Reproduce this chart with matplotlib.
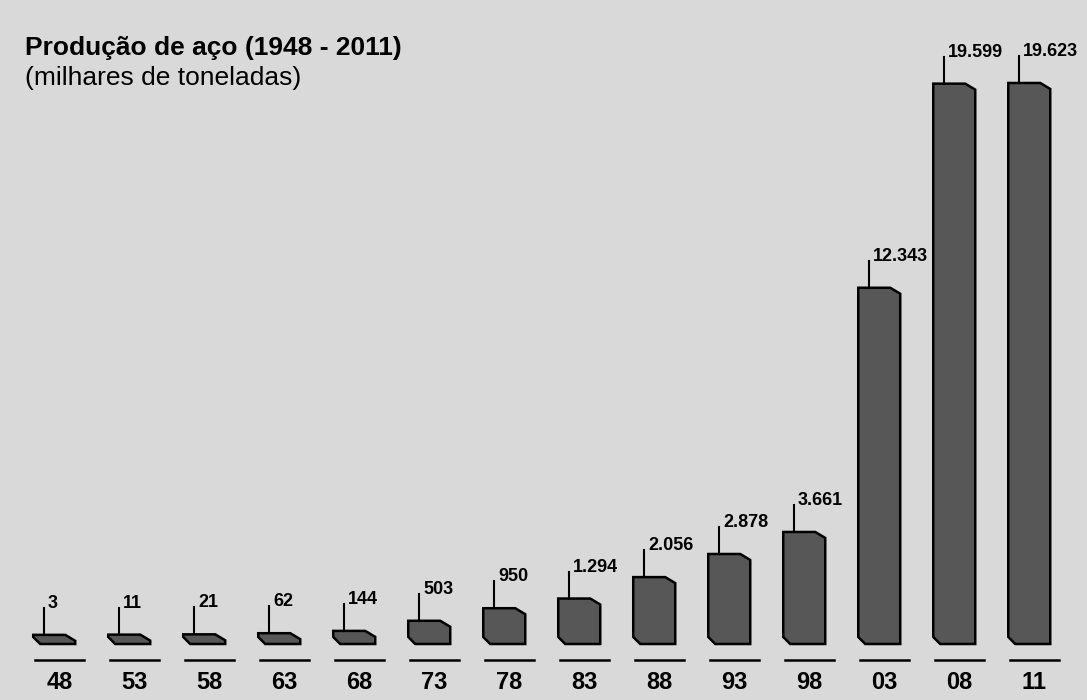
import matplotlib.pyplot as plt
from matplotlib.patches import Polygon

# dados (milhares de toneladas)
anos = ['48', '53', '58', '63', '68', '73', '78', '83', '88', '93', '98', '03', '08', '11']
producao = [3, 11, 21, 62, 144, 503, 950, 1294, 2056, 2878, 3661, 12343, 19599, 19623]

plt.rcParams['font.family'] = ['Liberation Sans', 'DejaVu Sans']

fig = plt.figure(figsize=(10.87, 7.0), dpi=100)
fig.patch.set_facecolor('#d9d9d9')
ax = fig.add_axes([0, 0, 1, 1])
ax.set_facecolor('#d9d9d9')
ax.set_xlim(-0.793, 13.7)
ax.set_ylim(-1991, 22895)
ax.axis('off')

largura = 0.56      # largura da face frontal
desloc = -0.07      # barra um pouco a esquerda do rotulo
prof = 322          # espessura da "placa" 3D
haste = 960         # altura da haste do rotulo

for i, (ano, v) in enumerate(zip(anos, producao)):
    x0 = i + desloc - largura / 2
    x1 = i + desloc + largura / 2
    topo = v + prof
    pts = [(x0, topo), (x1 - 0.133, topo), (x1, topo - 213), (x1, 0),
           (x0 + 0.093, 0), (x0, 250)]
    ax.add_patch(Polygon(pts, closed=True, facecolor='#575757',
                         edgecolor='black', linewidth=1.8, joinstyle='miter'))

    # haste e valor
    xh = x0 + 0.147
    ax.plot([xh, xh], [topo, topo + haste], color='black', linewidth=1.5)
    rotulo = f'{v:,}'.replace(',', '.')
    ax.text(xh + 0.05, topo + haste, rotulo, fontsize=13, fontweight='bold',
            ha='left', va='baseline')

    # linha separadora e ano
    ax.plot([i - 0.33, i + 0.33], [-572, -572], color='black', linewidth=1.8)
    ax.text(i, -1360, ano, fontsize=17, fontweight='bold', ha='center', va='center')

fig.text(25 / 1087, 1 - 55 / 700, 'Produção de aço (1948 - 2011)',
         fontsize=19, fontweight='bold', ha='left', va='baseline')
fig.text(25 / 1087, 1 - 85 / 700, '(milhares de toneladas)',
         fontsize=19, ha='left', va='baseline')

fig.savefig('out.png', dpi=100, facecolor=fig.get_facecolor())
